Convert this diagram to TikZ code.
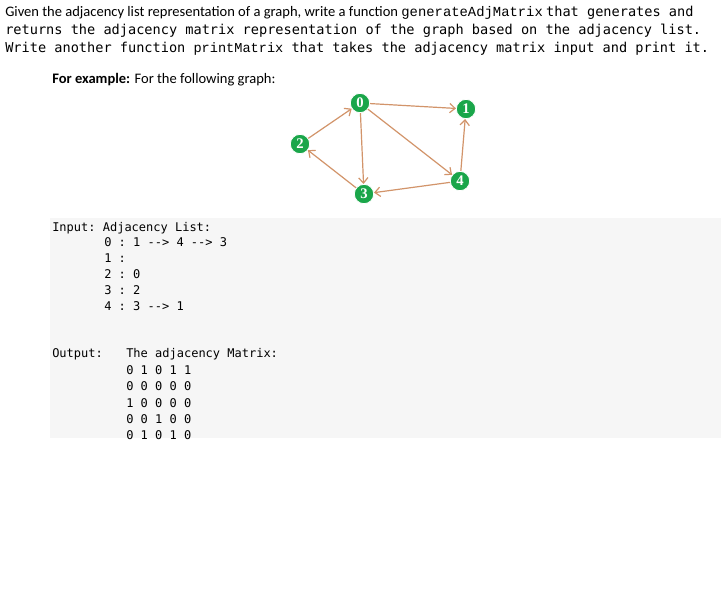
\documentclass[tikz,border=0pt]{standalone}
\usepackage{fontspec}
\setmainfont{Carlito}
\setmonofont{DejaVu Sans Mono}
\newfontfamily\cour{Liberation Mono}
\newfontfamily\numf{Liberation Serif}
\usetikzlibrary{arrows.meta}
\definecolor{edgec}{HTML}{D2946A}
\definecolor{nodec}{HTML}{1AA64A}
\definecolor{codebg}{HTML}{F6F6F6}
\tikzset{
  vtx/.style={circle,fill=nodec,draw=white,line width=0.6pt,inner sep=0pt,minimum size=14.5pt,text=white,font=\numf\fontsize{11}{11}\selectfont\bfseries},
  edg/.style={draw=edgec,line width=0.9pt,-{Straight Barb[length=4pt,width=7pt]}},
  txt/.style={anchor=base west,inner sep=0pt},
  code/.style={txt,font=\fontsize{9}{9}\selectfont\ttfamily}
}
\begin{document}
\begin{tikzpicture}[x=0.75pt,y=-0.75pt]
\useasboundingbox (0,0) rectangle (721,590);
\fill[white] (0,0) rectangle (721,590);
\fill[codebg] (50,218) rectangle (721,438);
\node[txt,font=\fontsize{10.9}{11}\selectfont] (t1) at (5,16) {Given the adjacency list representation of a graph, write a function {\cour\fontsize{10.4}{11}\selectfont generateAdjMatrix}\ {\ttfamily\fontsize{10.2}{11}\selectfont that generates and}};
\node[txt,font=\fontsize{10.2}{11}\selectfont\ttfamily] (t2) at (5,34) {returns the adjacency matrix representation of the graph based on the adjacency list.};
\node[txt,font=\fontsize{10.2}{11}\selectfont\ttfamily] (t3) at (5,52) {Write another function {\cour printMatrix} that takes the adjacency matrix input and print it.};
\node[txt,font=\fontsize{10.9}{11}\selectfont] (t4) at (52,83) {\textbf{For example:} For the following graph:};
\node[vtx] (n0) at (360,103) {0};
\node[vtx] (n1) at (466,109) {1};
\node[vtx] (n2) at (300,144) {2};
\node[vtx] (n3) at (364,194) {3};
\node[vtx] (n4) at (460,181) {4};
\draw[edg] (n0) -- (n1);
\draw[edg] (n0) -- (n3);
\draw[edg] (n0) -- (n4);
\draw[edg] (n2) -- (n0);
\draw[edg] (n3) -- (n2);
\draw[edg] (n4) -- (n3);
\draw[edg] (n4) -- (n1);
\node[code] (c0) at (52,231) {Input: Adjacency List:};
\node[code] (c1) at (104,246) {0 : 1 --> 4 --> 3};
\node[code] (c2) at (104,262) {1 :};
\node[code] (c3) at (104,278) {2 : 0};
\node[code] (c4) at (104,294) {3 : 2};
\node[code] (c5) at (104,310) {4 : 3 --> 1};
\node[code] (o0) at (52,357) {Output:};
\node[code] (o1) at (126,357) {The adjacency Matrix:};
\node[code] (m0) at (126,374) {0 1 0 1 1};
\node[code] (m1) at (126,390) {0 0 0 0 0};
\node[code] (m2) at (126,407) {1 0 0 0 0};
\node[code] (m3) at (126,423) {0 0 1 0 0};
\node[code] (m4) at (126,439) {0 1 0 1 0};
\end{tikzpicture}
\end{document}
